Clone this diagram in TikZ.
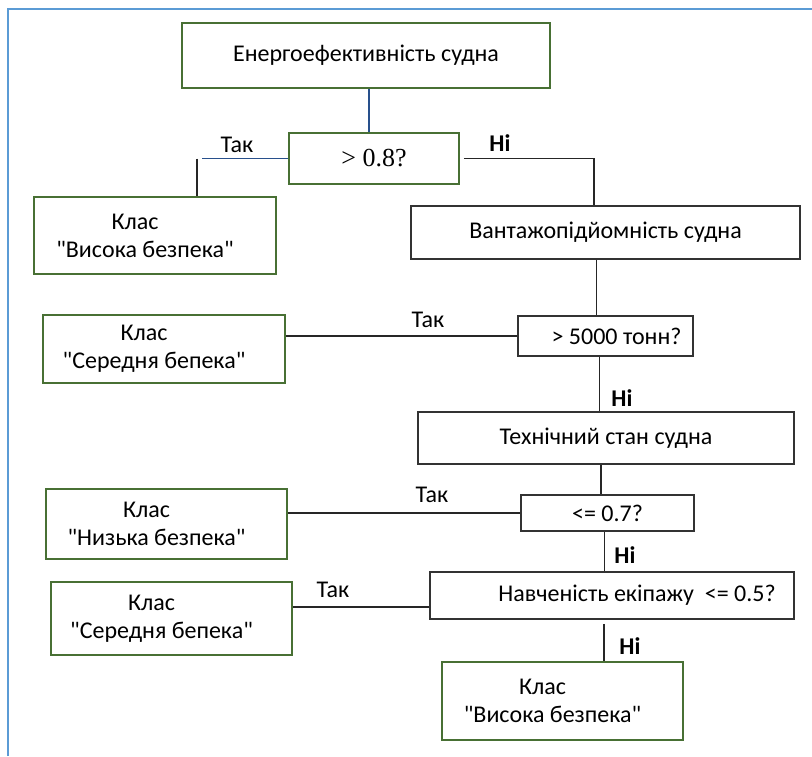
\documentclass[tikz,border=0pt]{standalone}
\usepackage{fontspec}
\setmainfont{Carlito}[Ligatures=TeXOff]
\newfontfamily\numfont{Liberation Serif}
\usepackage{tikz}
\definecolor{boxgreen}{RGB}{72,112,52}
\definecolor{framblue}{RGB}{91,155,213}
\definecolor{linkblue}{RGB}{40,80,140}
\newcommand{\klas}[1]{\hspace*{-40pt}Клас\\ \hspace*{-20pt}"#1"}

\begin{document}
\begin{tikzpicture}[x=1pt, y=-1pt, font=\fontsize{24}{28}\selectfont,
  greenbox/.style={draw=boxgreen, line width=1.5pt, inner sep=0pt, align=center},
  greybox/.style={draw=black!80, line width=1.5pt, inner sep=0pt, align=center},
  link/.style={line width=1.3pt, black!85}]
  \useasboundingbox (0,0) rectangle (812,756);
  \draw[framblue, line width=2pt] (8,756) -- (8,9) -- (812,9);

  \node[greenbox, minimum width=368pt, minimum height=65pt] (eff) at (366,55.5) {Енергоефективність судна};
  \node[greenbox, minimum width=170pt, minimum height=51pt] (q1) at (374,158.5) {\numfont\fontsize{26}{30}\selectfont > 0.8?};
  \node[greenbox, minimum width=242pt, minimum height=77pt] (high1) at (155,235.5) {\klas{Висока безпека}};
  \node[greybox, minimum width=389pt, minimum height=53pt] (cap) at (605.5,232.5) {Вантажопідйомність судна};
  \node[greenbox, minimum width=242pt, minimum height=68pt] (mid1) at (164,349) {\klas{Середня бепека}};
  \node[greybox, minimum width=175pt, minimum height=40pt] (q2) at (605.5,336) {\hspace*{22pt}> 5000 тонн?};
  \node[greybox, minimum width=376pt, minimum height=52pt] (tech) at (606,438) {Технічний стан судна};
  \node[greenbox, minimum width=241pt, minimum height=70pt] (low) at (166.5,524) {\klas{Низька безпека}};
  \node[greybox, minimum width=173pt, minimum height=36pt] (q3) at (607.5,513) {<= 0.7?};
  \node[greybox, minimum width=364pt, minimum height=47pt] (crew) at (612,595.5) {\hspace*{50pt}Навченість екіпажу ~<= 0.5?};
  \node[greenbox, minimum width=241pt, minimum height=73pt] (mid2) at (171.5,618.5) {\klas{Середня бепека}};
  \node[greenbox, minimum width=241pt, minimum height=78pt] (high2) at (562.5,701) {\klas{Висока безпека}};

  \coordinate (t1) at (202,158.5);
  \coordinate (t1b) at (197,158.5);
  \coordinate (n1) at (594,158.5);

  \draw[link, linkblue] ([xshift=3pt]eff.south) -- ([xshift=3pt]eff.south |- q1.north);
  \draw[link, linkblue] (q1.west) -- (t1);
  \draw[link] (t1b) -- (t1b |- high1.north);
  \draw[link] ([xshift=4pt]q1.east) -- (n1) -- (n1 |- cap.north);
  \draw[link] ([xshift=-9pt]cap.south) -- ([xshift=-9pt]cap.south |- q2.north);
  \draw[link] (q2.west) -- (q2.west -| mid1.east);
  \draw[link] ([xshift=-6pt]q2.south) -- ([xshift=-6pt]q2.south |- tech.north);
  \draw[link] ([xshift=-5pt]tech.south) -- ([xshift=-5pt]tech.south |- q3.north);
  \draw[link] (q3.west) -- (q3.west -| low.east);
  \draw[link] ([xshift=-3pt]q3.south) -- ([xshift=-3pt]q3.south |- crew.north);
  \draw[link] ([yshift=-11.5pt]crew.west) -- ([yshift=-11.5pt]crew.west -| mid2.east);
  \draw[link] ([xshift=-8pt,yshift=-4pt]crew.south) -- ([xshift=-8pt]crew.south |- high2.north);

  \node (y1) at (237,145) {Так};
  \node (h1) at (500,143) {\bfseries Ні};
  \node (y2) at (428,320) {Так};
  \node (h2) at (622,398) {\bfseries Ні};
  \node (y3) at (432,495) {Так};
  \node (h3) at (625,555) {\bfseries Ні};
  \node (y4) at (333,590) {Так};
  \node (h4) at (630,646) {\bfseries Ні};
\end{tikzpicture}
\end{document}
